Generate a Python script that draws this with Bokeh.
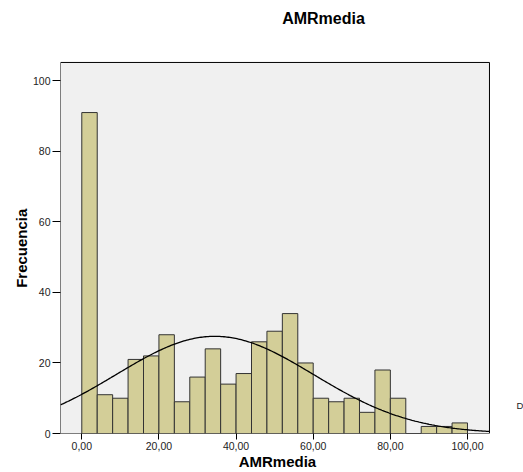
import numpy as np
from bokeh.plotting import figure
from bokeh.models import FixedTicker, Label, Range1d, ColumnDataSource
from bokeh.embed import file_html
from bokeh.resources import INLINE

# ---- data ----
bin_left = [0, 4, 8, 12, 16, 20, 24, 28, 32, 36, 40, 44, 48, 52, 56,
            60, 64, 68, 72, 76, 80, 84, 88, 92, 96]
bin_width = 4
counts = [91, 11, 10, 21, 22, 28, 9, 16, 24, 14, 17, 26, 29, 34, 20,
          10, 9, 10, 6, 18, 10, 0, 2, 2, 3]
fit_mean = 34.5
fit_sd = 25.6
n_total = sum(counts)

x_ticks = [0, 20, 40, 60, 80, 100]
x_tick_labels = ["0,00", "20,00", "40,00", "60,00", "80,00", "100,00"]
y_ticks = [0, 20, 40, 60, 80, 100]
y_tick_labels = ["0", "20", "40", "60", "80", "100"]

title_text = "AMRmedia"
x_label = "AMRmedia"
y_label = "Frecuencia"
stats_text = "Desviación típica =25,6"

# visible data window of the chart box (x: -5.52..105.7, y: 0..105.2)
box_x = (-5.52, 105.7)
box_y = (0, 105.2)

FONT = "Liberation Sans"
NBSP = "\u00a0"

# the frame spans the whole canvas to the right and top, so that the title and
# the statistics text (drawn inside the frame) are not clipped
p = figure(width=523, height=472, output_backend="svg", toolbar_location=None,
           x_range=Range1d(-5.52, 114.52), y_range=Range1d(0, 122.77),
           min_border_left=60, min_border_right=0, min_border_top=0,
           min_border_bottom=39)
p.background_fill_color = "white"
p.border_fill_color = "white"
p.outline_line_color = None
p.xgrid.visible = False
p.ygrid.visible = False

# chart box
p.quad(left=[box_x[0]], right=[box_x[1]], bottom=[box_y[0]], top=[box_y[1]],
       fill_color="#F0F0F0", line_color="black", line_width=1)

src = ColumnDataSource(dict(
    left=bin_left,
    right=[b + bin_width for b in bin_left],
    top=counts,
    bottom=[0] * len(counts),
))
p.quad(left="left", right="right", top="top", bottom="bottom", source=src,
       fill_color="#D3CE98", line_color="#333333", line_width=1)

xs = np.linspace(box_x[0], box_x[1], 300)
ys = n_total * bin_width / (fit_sd * np.sqrt(2 * np.pi)) * np.exp(-0.5 * ((xs - fit_mean) / fit_sd) ** 2)
p.line(xs, ys, line_color="black", line_width=1.3)

# axes
p.xaxis.ticker = FixedTicker(ticks=x_ticks)
p.xaxis.major_label_overrides = {t: l for t, l in zip(x_ticks, x_tick_labels)}
p.yaxis.ticker = FixedTicker(ticks=y_ticks)
p.yaxis.major_label_overrides = {t: l for t, l in zip(y_ticks, y_tick_labels)}
for ax in (p.xaxis, p.yaxis):
    ax.minor_tick_line_color = None
    ax.major_tick_in = 0
    ax.axis_line_color = None
    ax.major_tick_line_color = "black"
    ax.major_label_text_font = FONT
    ax.major_label_text_font_size = "10.5px"
    ax.major_label_text_color = "#222222"
    ax.axis_label_text_font = FONT
    ax.axis_label_text_font_style = "bold"
    ax.axis_label_text_color = "black"
    ax.axis_label_text_font_size = "15px"
p.xaxis.major_tick_out = 6
p.xaxis.major_label_standoff = 2
p.yaxis.major_tick_out = 8
p.yaxis.major_label_standoff = 2

# axis labels are centred on the (extended) frame: trailing no-break spaces
# bring them back to the centre of the chart box
p.yaxis.axis_label = y_label + NBSP * 15
p.yaxis.axis_label_standoff = 0
p.xaxis.axis_label = x_label + NBSP * 7
p.xaxis.axis_label_standoff = 0

# title
p.add_layout(Label(x=62.67, y=117.66, text=title_text, text_font=FONT,
                   text_font_style="bold", text_font_size="16px",
                   text_align="center", text_baseline="middle", text_color="black"))
# statistics text, mostly beyond the right edge as in the reference
p.add_layout(Label(x=112.7, y=7.94, text=stats_text, text_font=FONT,
                   text_font_size="9.5px", text_align="left",
                   text_baseline="middle", text_color="#222222"))

open("out.html", "w").write(file_html(p, INLINE))
